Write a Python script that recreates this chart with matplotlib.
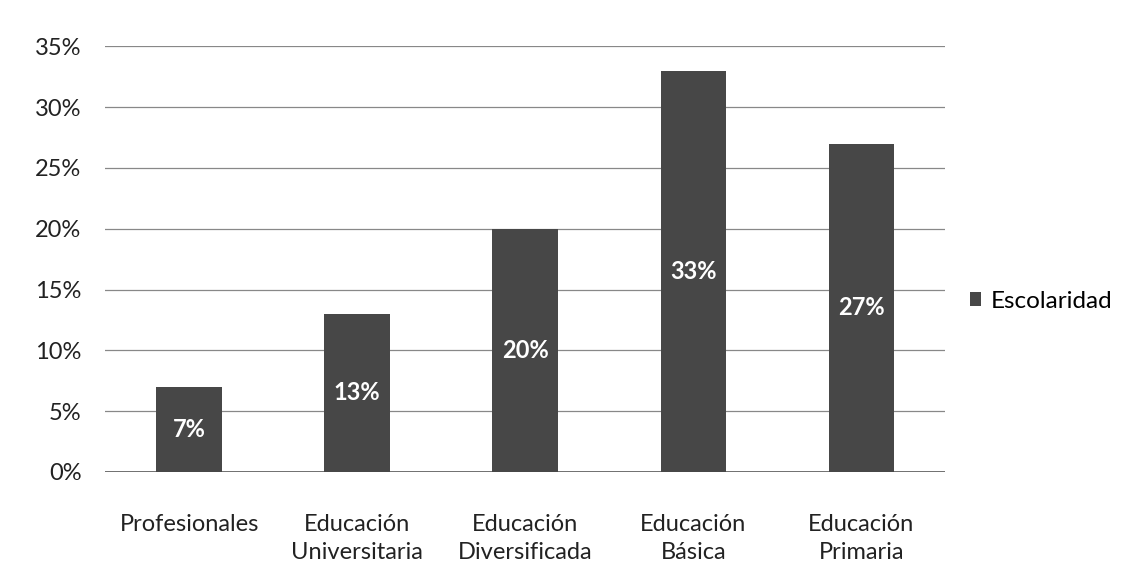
import matplotlib.pyplot as plt
from matplotlib.patches import Patch

categories = ["Profesionales", "Educación\nUniversitaria", "Educación\nDiversificada",
              "Educación\nBásica", "Educación\nPrimaria"]
values = [7, 13, 20, 33, 27]
yticks = [0, 5, 10, 15, 20, 25, 30, 35]
series_name = "Escolaridad"

plt.rcParams['font.family'] = ['Lato', 'DejaVu Sans']

fig = plt.figure(figsize=(11.48, 5.87), dpi=100)
ax = fig.add_axes([0.0915, 0.196, 0.732, 0.725])

x = list(range(len(values)))
bars = ax.bar(x, values, width=0.39, color='#474747', zorder=2)
for b, v in zip(bars, values):
    ax.text(b.get_x() + b.get_width() / 2, v / 2, f"{v}%", ha='center', va='center',
            color='white', fontsize=17, fontweight='bold', zorder=3)

ax.set_xlim(-0.5, len(values) - 0.5)
ax.set_ylim(0, 35)
ax.set_yticks(yticks)
ax.set_yticklabels([f"{t}%" for t in yticks], fontsize=17, color='#222222')
ax.set_xticks(x)
ax.set_xticklabels(categories, fontsize=17, color='#222222', linespacing=1.45)
ax.tick_params(axis='y', length=0, pad=17)
ax.tick_params(axis='x', length=0, pad=30)
ax.yaxis.grid(True, color='#888888', linewidth=0.9, zorder=0)
for s in ax.spines.values():
    s.set_visible(False)
ax.axhline(0, color='#555555', linewidth=1.2, zorder=1)

fig.legend(handles=[Patch(facecolor='#474747', label=series_name)],
           loc='center left', bbox_to_anchor=(0.826, 0.487), frameon=False,
           fontsize=17.5, handlelength=0.45, handleheight=0.45, handletextpad=0.4)

fig.savefig("out.png", dpi=100)
